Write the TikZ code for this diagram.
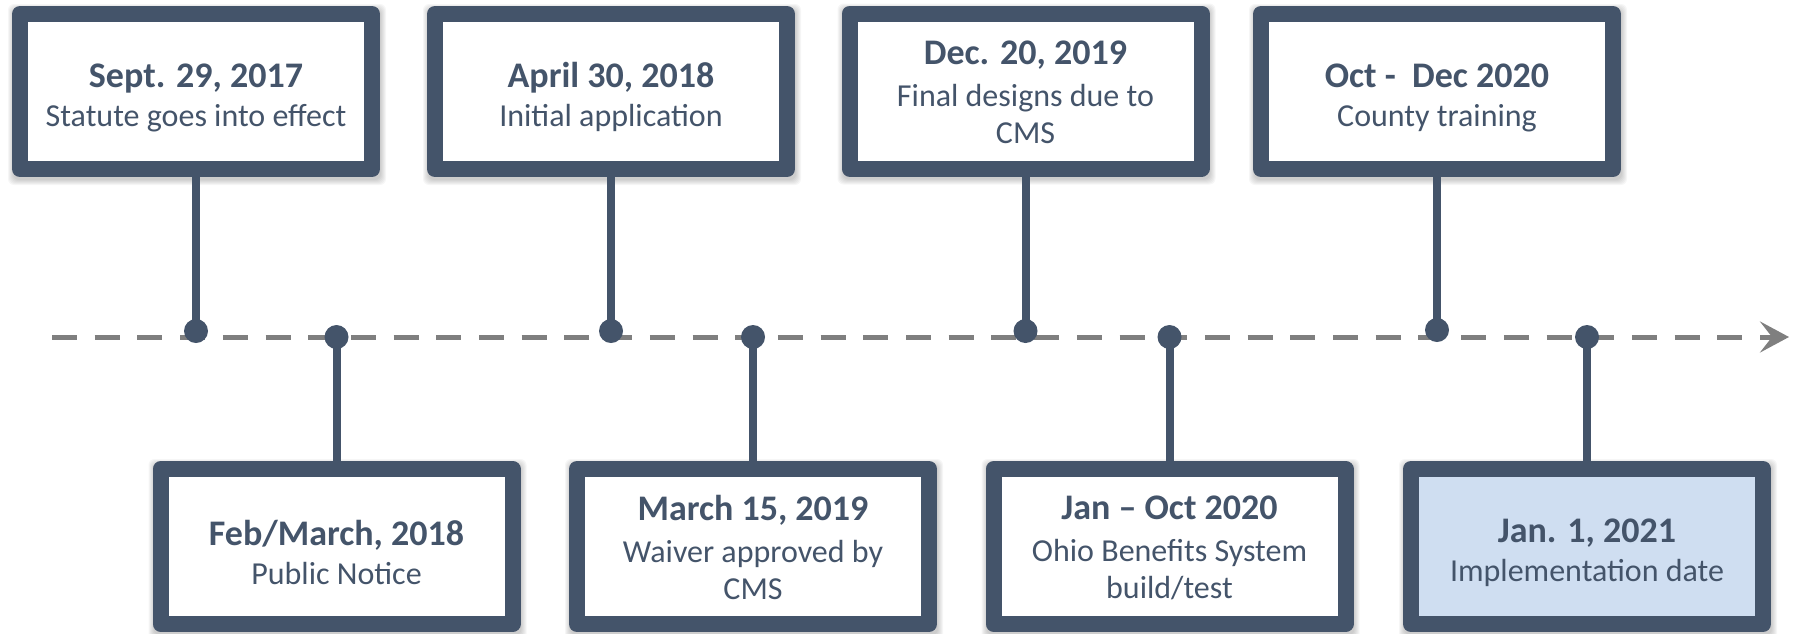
\documentclass[tikz,border=0pt]{standalone}
\usepackage{fontspec}
\setmainfont{Carlito}
\usetikzlibrary{arrows.meta}
\definecolor{slate}{HTML}{44546A}
\definecolor{axisgray}{HTML}{7F7F7F}
\definecolor{paleblue}{HTML}{CFDEF1}
\pgfdeclarelayer{bg}
\pgfsetlayers{bg,main}
% bold date line; the optional strut height sets the room above it
\newcommand{\datehead}[2][37]{{\fontsize{36}{37}\selectfont\bfseries\rule{0pt}{#1pt}#2}}

\begin{document}
\begin{tikzpicture}[x=1pt,y=-1pt,
  event/.style={draw=slate, line width=16pt, line join=round, fill=white,
    minimum width=352pt, minimum height=155pt, inner sep=0pt, align=center,
    text=slate, font=\fontsize{32}{37}\selectfont},
  stem/.style={draw=slate, line width=8pt},
  pin/.style={circle, fill=slate, minimum size=24pt, inner sep=0pt},
  axis/.style={draw=axisgray, line width=5pt, dash pattern=on 25pt off 17.7pt,
    -{Stealth[length=29pt,width=31pt,inset=12pt]}},
]
\useasboundingbox (0,0) rectangle (1801,633);

% time axis
\coordinate (axstart) at (52,337);
\coordinate (axend) at (1789,337);
\draw[axis] (axstart) -- (axend);

% milestone boxes above the axis
\node[event] (e1) at (196,91.5) {\datehead{Sept. 29, 2017}\\[2pt]Statute goes into effect};
\node[event] (e3) at (611,91.5) {\datehead{April 30, 2018}\\[2pt]Initial application};
\node[event] (e5) at (1025.5,91) {\datehead[27]{Dec. 20, 2019}\\[5pt]Final designs due to\\CMS};
\node[event] (e7) at (1437,91.5) {\datehead{Oct -\ \ Dec 2020}\\[2pt]County training};

% milestone boxes below the axis
\node[event] (e2) at (336.5,546.5) {\datehead{Feb/March, 2018}\\[2pt]Public Notice};
\node[event] (e4) at (753,546.5) {\datehead[27]{March 15, 2019}\\[5pt]Waiver approved by\\CMS};
\node[event] (e6) at (1169.5,546.5) {\datehead[27]{Jan – Oct 2020}\\[5pt]Ohio Benefits System\\build/test};
\node[event, fill=paleblue] (e8) at (1587,546.5) {\datehead{Jan. 1, 2021}\\[2pt]Implementation date};

% pins on the axis
\node[pin] (p1) at (196,331) {};
\node[pin] (p2) at (336.5,337) {};
\node[pin] (p3) at (611,331) {};
\node[pin] (p4) at (753,337) {};
\node[pin] (p5) at (1025.5,331) {};
\node[pin] (p6) at (1169.5,337) {};
\node[pin] (p7) at (1437,330) {};
\node[pin] (p8) at (1587,337) {};

% stems joining boxes and pins
\foreach \b/\p in {e1/p1,e3/p3,e5/p5,e7/p7}
  \draw[stem] (\b.south) -- (\p.center);
\foreach \b/\p in {e2/p2,e4/p4,e6/p6,e8/p8}
  \draw[stem] (\p.center) -- (\b.north);

% soft drop shadows under the boxes
\begin{pgfonlayer}{bg}
\foreach \n in {e1,e2,e3,e4,e5,e6,e7,e8}
  \foreach \s in {0,1,2,3,4,5}
    \fill[black, opacity=0.035, rounded corners=6pt]
      ([xshift={1pt-\s pt}, yshift={-3pt-\s pt}]\n.south west) rectangle
      ([xshift={1pt+\s pt}, yshift={-3pt+\s pt}]\n.north east);
\end{pgfonlayer}
\end{tikzpicture}
\end{document}
